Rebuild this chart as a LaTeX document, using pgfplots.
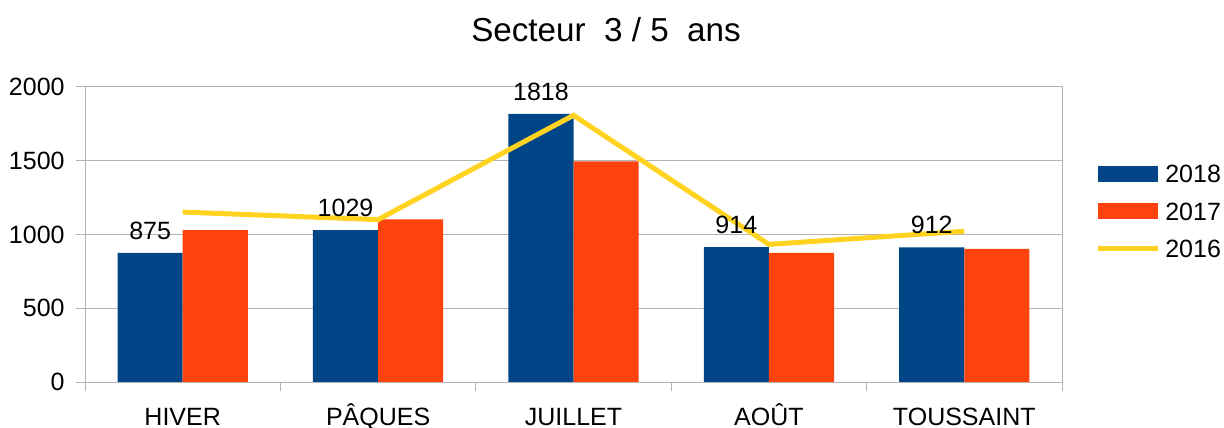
\documentclass[border=0pt]{standalone}
\usepackage{pgfplots}
\pgfplotsset{compat=1.18}
\usepackage{fontspec}
\setmainfont{Liberation Sans}
\definecolor{c18}{HTML}{004586}
\definecolor{c17}{HTML}{FF420E}
\definecolor{c16}{HTML}{FFD320}
\definecolor{gridc}{HTML}{B3B3B3}
\begin{document}
\begin{tikzpicture}
\useasboundingbox (0,0) rectangle (612bp,214bp);
\node[anchor=base, font=\fontsize{16.6bp}{19bp}\selectfont, inner sep=0pt] at (303bp,193bp) {Secteur\ \ 3 / 5\ \ ans};
\begin{axis}[
    at={(42.5bp,23bp)}, anchor=south west,
    scale only axis, width=488.5bp, height=147.5bp,
    xmin=-0.5, xmax=4.5, ymin=0, ymax=2000,
    ybar=0pt, bar width=0.3333,
    xtick={-0.5,0.5,1.5,2.5,3.5,4.5},
    xticklabels={},
    extra x ticks={0,1,2,3,4},
    extra x tick labels={HIVER, PÂQUES, JUILLET, AOÛT, TOUSSAINT},
    extra x tick style={major tick length=0pt, grid=none},
    ytick={0,500,1000,1500,2000},
    xtick pos=bottom, ytick pos=left,
    tick align=outside, major tick length=4.5bp,
    tick style={draw=gridc, line width=0.5bp},
    ymajorgrids, grid style={draw=gridc, line width=0.5bp},
    axis line style={draw=gridc, line width=0.5bp},
    /pgf/number format/assume math mode=true,
    /pgf/number format/1000 sep={},
    tick label style={font=\fontsize{12.5bp}{15bp}\selectfont},
    y tick label style={inner sep=0pt, xshift=-5.5bp},
    x tick label style={inner sep=0pt, text height=9bp, text depth=0pt, yshift=-12.5bp},
    legend style={at={(1.0337,0.578)}, anchor=west, draw=none, fill=none,
        inner sep=0pt, row sep=9.75bp,
        font=\fontsize{12.5bp}{15bp}\selectfont,
        nodes={inner sep=0pt, text height=9bp, text depth=0pt},
        /tikz/every odd column/.append style={column sep=2.5bp}},
    legend cell align=left,
]
\addplot[draw=none, fill=c18,
    nodes near coords,
    every node near coord/.append style={anchor=south, inner sep=0pt, yshift=6.5bp, text=black, font=\fontsize{12.5bp}{15bp}\selectfont},
    legend image code/.code={\fill[c18] (0bp,-4bp) rectangle (30bp,4bp);}]
    coordinates {(0,875) (1,1029) (2,1818) (3,914) (4,912)};
\addlegendentry{2018}
\addplot[draw=none, fill=c17,
    legend image code/.code={\fill[c17] (0bp,-4bp) rectangle (30bp,4bp);}]
    coordinates {(0,1030) (1,1103) (2,1495) (3,875) (4,902)};
\addlegendentry{2017}
\addplot[sharp plot, draw=c16, line width=2.5bp, mark=none,
    legend image code/.code={\draw[c16, line width=2.5bp] (0bp,0bp) -- (30bp,0bp);}]
    coordinates {(0,1152) (1,1101) (2,1808) (3,933) (4,1022)};
\addlegendentry{2016}
\end{axis}
\end{tikzpicture}
\end{document}
